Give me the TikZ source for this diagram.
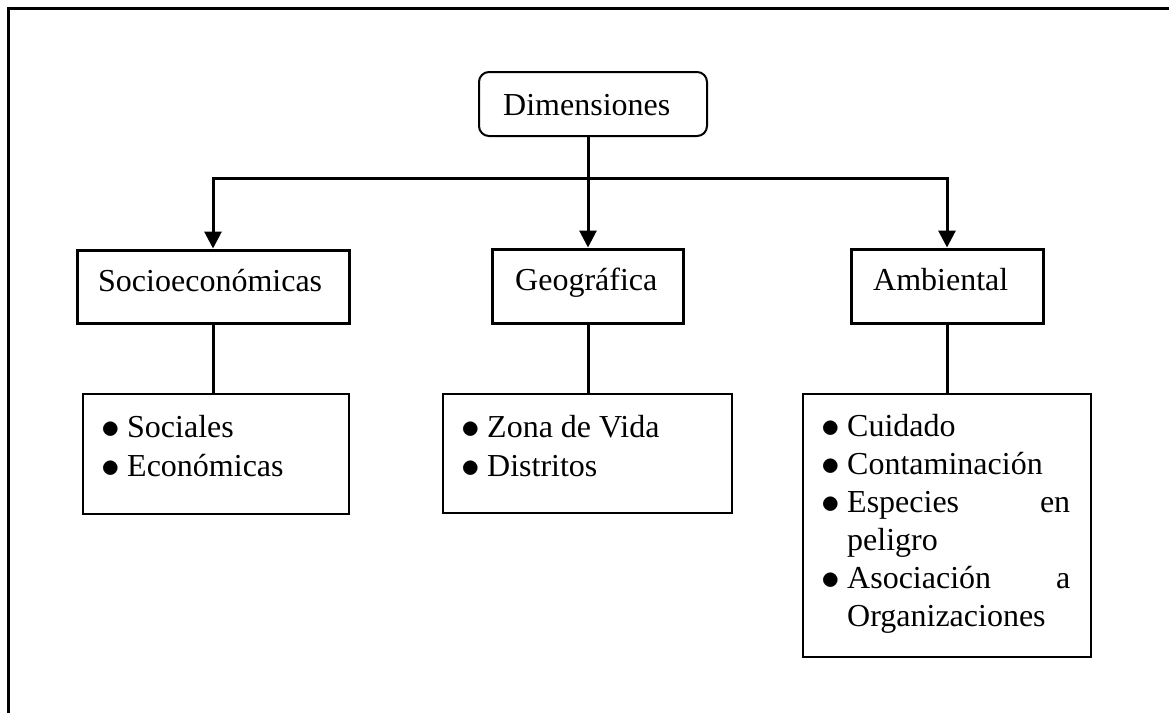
\documentclass[tikz,border=0pt]{standalone}
\usepackage{fontspec}
\setmainfont{Liberation Serif}
\usetikzlibrary{arrows.meta}
\newcommand{\bul}{\raisebox{-1.5pt}{\scalebox{1.5}{$\bullet$}}}
\begin{document}
\begin{tikzpicture}[x=1pt,y=-1pt,
  frameline/.style={line width=3pt},
  rootbox/.style={draw,line width=2pt,rounded corners=10pt,inner sep=0pt},
  lvlbox/.style={draw,line width=3pt,inner sep=0pt},
  listbox/.style={draw,line width=1.3pt,inner sep=0pt},
  conn/.style={line width=3pt},
  arr/.style={line width=3pt,-{Triangle[width=17pt,length=17pt]}},
  txt/.style={anchor=base west,inner sep=0pt,font=\fontsize{32}{38}\selectfont}]
\useasboundingbox (0,0) rectangle (1169,713);
\draw[frameline] (8,713) -- (8,8) -- (1169,8);
% boxes
\node[rootbox,minimum width=228,minimum height=64] (dim) at (593,104) {};
\node[lvlbox,minimum width=272,minimum height=73] (socio) at (213,286.5) {};
\node[lvlbox,minimum width=191,minimum height=74] (geo) at (588,286) {};
\node[lvlbox,minimum width=192,minimum height=74] (amb) at (947,286) {};
\node[listbox,minimum width=266,minimum height=120] (soc2) at (216,454) {};
\node[listbox,minimum width=289,minimum height=119] (zona) at (587.5,453.5) {};
\node[listbox,minimum width=288,minimum height=263] (cuid) at (947,525.5) {};
% texts
\node[txt] (tdim) at (503,115) {Dimensiones};
\node[txt] (tsocio) at (98,291) {Socioeconómicas};
\node[txt] (tgeo) at (515,290) {Geográfica};
\node[txt] (tamb) at (873,290) {Ambiental};
\node[txt] (b1) at (101,437) {\bul};
\node[txt] (t1) at (127,437) {Sociales};
\node[txt] (b2) at (101,476) {\bul};
\node[txt] (t2) at (127,476) {Económicas};
\node[txt] (b3) at (461,437) {\bul};
\node[txt] (t3) at (487,437) {Zona de Vida};
\node[txt] (b4) at (461,476) {\bul};
\node[txt] (t4) at (487,476) {Distritos};
\node[txt] (b5) at (821,436) {\bul};
\node[txt] (t5) at (847,436) {Cuidado};
\node[txt] (b6) at (821,474) {\bul};
\node[txt] (t6) at (847,474) {Contaminación};
\node[txt] (b7) at (821,512) {\bul};
\node[txt] (t7) at (847,512) {\makebox[223pt][s]{Especies en}};
\node[txt] (t8) at (847,550) {peligro};
\node[txt] (b9) at (821,588) {\bul};
\node[txt] (t9) at (847,588) {\makebox[223pt][s]{Asociación a}};
\node[txt] (t10) at (847,626) {Organizaciones};
% connectors
\coordinate (j) at (geo.north |- 0,178);
\draw[arr] (geo.north |- dim.south) -- (geo.north);
\draw[arr] (j) -| (socio.north);
\draw[arr] (j) -| (amb.north);
\draw[conn] (socio.south) -- (socio.south |- soc2.north);
\draw[conn] (geo.south) -- (geo.south |- zona.north);
\draw[conn] (amb.south) -- (amb.south |- cuid.north);
\end{tikzpicture}
\end{document}
